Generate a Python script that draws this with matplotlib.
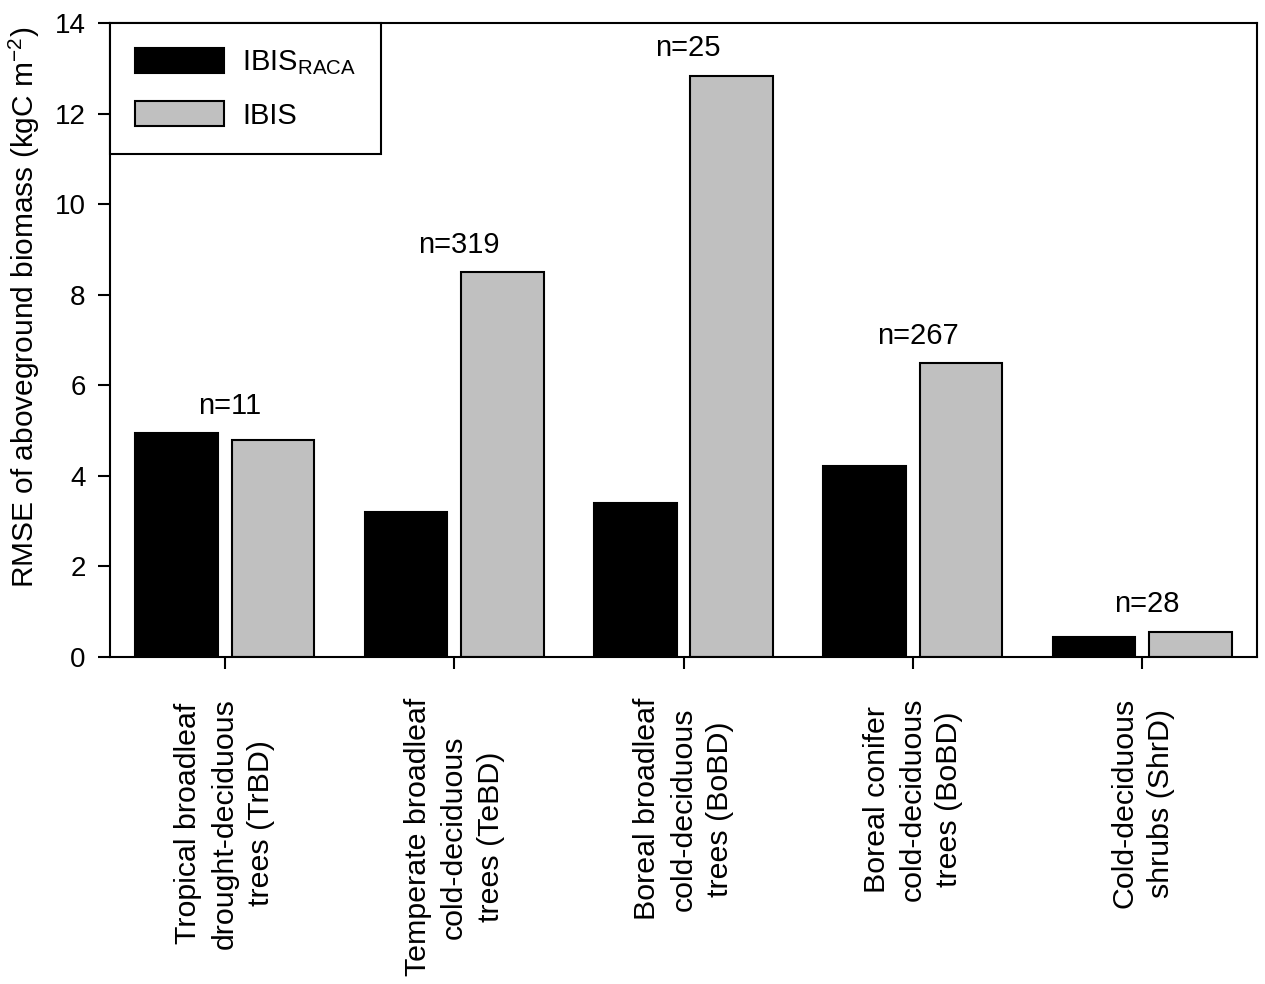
import matplotlib
matplotlib.use("Agg")
import matplotlib.pyplot as plt
import numpy as np

# ---------------------
# data
# ---------------------
categories = [
    "Tropical broadleaf\ndrought-deciduous\ntrees (TrBD)",
    "Temperate broadleaf\ncold-deciduous\ntrees (TeBD)",
    "Boreal broadleaf\ncold-deciduous\ntrees (BoBD)",
    "Boreal conifer\ncold-deciduous\ntrees (BoBD)",
    "Cold-deciduous\nshrubs (ShrD)",
]
ibis_raca = [4.94, 3.2, 3.4, 4.22, 0.45]
ibis = [4.79, 8.5, 12.83, 6.49, 0.56]
n_labels = ["n=11", "n=319", "n=25", "n=267", "n=28"]

# ---------------------
# style
# ---------------------
plt.rcParams["font.family"] = ["Liberation Sans", "DejaVu Sans"]
plt.rcParams["mathtext.fontset"] = "custom"
plt.rcParams["mathtext.rm"] = "Liberation Sans"
plt.rcParams["mathtext.it"] = "Liberation Sans:italic"

fig = plt.figure(figsize=(12.65, 9.84), dpi=100)
ax = fig.add_axes([0.087, 0.3323, 0.9067, 0.6443])

x = np.arange(len(categories))
w = 0.36
off = 0.21
ax.bar(x - off, ibis_raca, w, color="black", edgecolor="black", linewidth=1.5,
       label=r"IBIS$_{\mathrm{RACA}}$")
ax.bar(x + off, ibis, w, color="#c0c0c0", edgecolor="black", linewidth=1.5,
       label="IBIS")

# sample size above each group
for i, t in enumerate(n_labels):
    top = max(ibis_raca[i], ibis[i])
    ax.text(x[i] + 0.02, top + 0.3, t, ha="center", va="bottom", fontsize=21)

ax.set_xlim(-0.5, 4.5)
ax.set_ylim(0, 14)
ax.set_yticks(np.arange(0, 15, 2))
ax.tick_params(axis="both", direction="out", length=8.5, width=1.5)
ax.tick_params(axis="y", labelsize=20, pad=9)
ax.tick_params(axis="x", pad=21)
ax.set_xticks(x)
ax.set_xticklabels(categories, rotation=90, ha="center", va="top",
                   multialignment="center", fontsize=21.9, linespacing=1.38)
ax.set_ylabel(r"RMSE of aboveground biomass (kgC m$^{-2}$)", fontsize=21.5)
ax.yaxis.set_label_coords(-0.059, 0.552)
for s in ax.spines.values():
    s.set_linewidth(1.5)

leg = ax.legend(loc="upper left", fontsize=21, borderaxespad=0, fancybox=False,
                framealpha=1, edgecolor="black", handlelength=3.07, handleheight=0.97,
                borderpad=0.85, labelspacing=0.8, handletextpad=0.6)
leg.get_frame().set_linewidth(1.5)

fig.savefig("out.png", dpi=100)
